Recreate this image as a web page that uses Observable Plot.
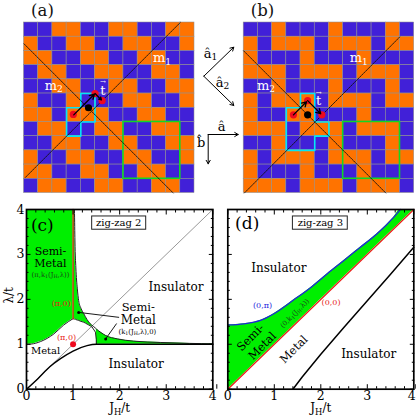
<!DOCTYPE html>
<html><head><meta charset="utf-8">
<script src="https://cdn.jsdelivr.net/npm/d3@7"></script>
<script src="https://cdn.jsdelivr.net/npm/@observablehq/plot@0.6"></script>
<style>
html,body{margin:0;padding:0;background:#fff}
#fig{position:relative;width:416px;height:419px;overflow:hidden;font-family:"DejaVu Serif",serif}
#fig svg{position:absolute;overflow:visible}
</style></head><body><div id="fig"></div>
<script>
const SERIF = "DejaVu Serif";
const BLUE = "#4120d8", ORANGE = "#ff7300", CYAN = "#05e6f5", BOX = "#12d626";
const GREEN = "#00ef00", RED = "#e8231a", RED_DOT = "#ee0a1e", CURVE_BLUE = "#2222dd";

// ---- magnetic patterns (B = blue, O = orange)
const gridA = [
 "BBOOBBOOBBOO","OBBOOBBOOBBO","OOBBOOBBOOBB","BOOBBOOBBOOB",
 "BBOOBBOOBBOO","OBBOBBBOOBBO","OOBOOOBBOOBB","BOOBBOOBBOOB",
 "BBOOBBOOBBOO","OBBOOBBOOBBO","OOBBOOBBOOBB","BOOBBOOBBOOB"];
const gridB = [
 "BBOBBBOBBBOB","OBOOOBOOOBOO","OBBBOBBBOBBB","OOOBOOOBOOOB",
 "BBOBBBOBBBOB","OBOOOBOOOBOO","OBBOOBBBOBBB","OOOBOOOBOOOB",
 "BBOBBBOBBBOB","OBOOOBOOOBOO","OBBBOBBBOBBB","OOOBOOOBOOOB"];

// ---- overlays in lattice units
const cyanA = [[3,6],[4,6],[4,5],[5,5],[5,7],[4,7],[4,8],[3,8],[3,6]];
const cyanB = [[4,5],[5,5],[5,7],[6,7],[6,8],[5,8],[5,9],[3,9],[3,6],[4,6],[4,5]];
const boxCells = [7,7,11,11];
const m1A = [[0.1,10.9],[11,0]], m2A = [[0,1.5],[10.5,12]];
const m1B = [[0.05,12],[11,1]], m2B = [[0,2],[10,12]];
const redA = [[3.47,6.47],[5,5],[5.5,5.5]], blackA = [[4.54,6]];
const redB = [[3.5,6.5],[4.5,5.5],[5.5,6.5]], blackB = [[4.5,6.5]];
const hopA = [[3.5,6.5,4.95,5.05],[5,5,5.45,5.45]];
const hopB = [[3.5,6.5,4.42,5.58],[4.5,5.5,5.42,6.42]];

// ---- panel (c) boundaries
const c_metalTopX = [0,0.1,0.3,0.587,0.8,1];
const c_metalTopY = [1,1.005,1.06,1.23,1.43,1.57];
const c_wedgeX = [1,1.03,1.04,1.06,1.09,1.12,1.17,1.23,1.3,1.37,1.41];
const c_wedgeTop = [4,4,3.3,2.7,2.25,1.97,1.8,1.68,1.55,1.455,1.42];
const c_wedgeLow = [1.57,1.56,1.56,1.55,1.54,1.53,1.51,1.49,1.45,1.41,1.38];
const c_tailX = [1.41,1.48,1.5,1.6,1.7,1.95,2.3,2.88,3.5,4];
const c_tailY = [1.42,1.36,1.34,1.26,1.195,1.12,1.07,1.04,1.02,1.01];
const c_dropX = [1.41,1.48,1.5,1.5];
const c_dropY = [1.38,1.27,1.1,1];
const c_lowX = [0,0.25,0.5,0.73,1,1.3,1.5,4];
const c_lowY = [0,0.24,0.5,0.68,0.85,0.97,1,1];

// ---- panel (d) boundaries
const d_blueX = [0,0.344,0.7,0.99,1.42,1.78,2.14,2.49,2.85,3.21,3.57,3.71,4];
const d_blueY = [1.43,1.455,1.53,1.68,1.99,2.26,2.57,2.86,3.16,3.46,3.83,4,4];
const d_blackX = [1.4,1.6,2,2.5,3,3.5,4];
const d_blackY = [0,0.27,0.78,1.38,1.97,2.56,3.16];

const majorTicks = [0,1,2,3,4];
const minorTicks = [0.2,0.4,0.6,0.8,1.2,1.4,1.6,1.8,2.2,2.4,2.6,2.8,3.2,3.4,3.6,3.8];

// ---- text
const labelsC = [
 {x:0.34,y:3.64,t:"(c)",s:17},
 {x:0.515,y:3.06,t:"Semi-",s:11},{x:0.515,y:2.80,t:"Metal",s:11},
 {x:0.515,y:2.55,t:"(π,k_{1}(J_{H},λ))",s:6.8,c:"#1a4a1a"},
 {x:0.745,y:1.91,t:"(π,0)",s:8,c:RED},{x:0.86,y:1.15,t:"(π,0)",s:8,c:RED},
 {x:0.41,y:0.86,t:"Metal",s:10},
 {x:3.21,y:2.27,t:"Insulator",s:12},
 {x:2.4,y:1.82,t:"Semi-",s:11.5},{x:2.4,y:1.53,t:"Metal",s:12},
 {x:2.38,y:1.28,t:"(k_{1}(J_{H},λ),0)",s:6.8},
 {x:2.355,y:0.557,t:"Insulator",s:12},
 {x:1.98,y:3.70,t:"zig-zag 2",s:10},
 {x:2,y:-0.43,t:"J_{H}/t",s:12},
 {x:-0.38,y:2.09,t:"λ/t",s:12,r:-90}
];
const labelsD = [
 {x:0.417,y:3.69,t:"(d)",s:17},
 {x:1.097,y:2.70,t:"Insulator",s:12},
 {x:0.746,y:1.87,t:"(0,π)",s:8,c:CURVE_BLUE},
 {x:2.22,y:1.93,t:"(0,0)",s:8,c:RED},
 {x:1.44,y:1.69,t:"(0,k_{1}(J_{H},λ))",s:6.8,r:-45,c:"#1a4a1a"},
 {x:0.488,y:1.15,t:"Semi-",s:11.5,r:-45},{x:0.74,y:0.96,t:"Metal",s:11.5,r:-45},
 {x:1.42,y:0.885,t:"Metal",s:11.5,r:-45},
 {x:3.03,y:0.79,t:"Insulator",s:12},
 {x:1.99,y:3.70,t:"zig-zag 3",s:10},
 {x:2,y:-0.43,t:"J_{H}/t",s:12}
];
const labelsA = [{x:9.72,y:2.48,t:"m_{1}",s:13},{x:2.1,y:4.43,t:"m_{2}",s:13},{x:5.55,y:4.78,t:"t",s:13},{x:5.55,y:4.18,t:"→",s:7}];
const labelsB = [{x:8.1,y:2.48,t:"m_{1}",s:13},{x:1.57,y:4.43,t:"m_{2}",s:13},{x:5.28,y:5.53,t:"t",s:13},{x:5.28,y:4.93,t:"→",s:7}];

// ---- lattice-vector key (plot units = px of its own small frame)
const keyArrows = [[13.3,45.7,43.3,16.7],[13.3,45.7,43.3,75],[17.7,104,47.7,104],[17.7,104,17.7,133.3]];
const keyLabels = [
 {x:20,y:23,t:"â_{1}"},{x:32,y:52,t:"â_{2}"},{x:31,y:96,t:"â"},{x:10.7,y:112.7,t:"b\u0302"}
];

const fig = document.getElementById("fig");

function textMarks(list, fill) {
  return list.map(l => Plot.text([l], {x:"x", y:"y", text:"t", fontSize:l.s||13,
    fill: l.c || fill || "black", rotate: l.r || 0, fontFamily: SERIF}));
}
function subscripts(svg) {
  d3.select(svg).selectAll("text").each(function() {
    const raw = this.textContent;
    if (!raw.includes("_{")) return;
    const node = this; node.textContent = "";
    const parts = raw.split(/(_\{[^}]*\})/).filter(Boolean);
    let lift = 0;
    for (const p of parts) {
      const ts = document.createElementNS("http://www.w3.org/2000/svg","tspan");
      const sub = p.startsWith("_{");
      ts.textContent = sub ? p.slice(2,-1) : p;
      if (sub) { ts.setAttribute("font-size","70%"); ts.setAttribute("dy","0.3em"); lift = 1; }
      else if (lift) { ts.setAttribute("dy","-0.21em"); lift = 0; }
      node.appendChild(ts);
    }
  });
}
function place(svg, left, top) {
  svg.style.left = left + "px"; svg.style.top = top + "px";
  subscripts(svg); fig.appendChild(svg);
}

function lattice(rows, cyan, m1, m2, red, black, hops, labels, title, left, ml) {
  const cells = rows.flatMap((r,i) => [...r].map((v,j) => ({i,j,v})));
  const svg = Plot.plot({
    width: 200, height: 200, marginLeft: ml, marginRight: 200-ml-170.5, marginTop: 22, marginBottom: 7.5,
    x:{domain:[0,12],axis:null}, y:{domain:[0,12],reverse:true,axis:null},
    style:{background:"transparent",fontFamily:SERIF},
    marks:[
      Plot.rect(cells,{x1:"j",x2:d=>d.j+1,y1:"i",y2:d=>d.i+1,
        fill:d=>d.v==="B"?BLUE:ORANGE,stroke:"#8f8f8f",strokeWidth:0.55}),
      Plot.rect([boxCells],{x1:d=>d[0],y1:d=>d[1],x2:d=>d[2],y2:d=>d[3],stroke:BOX,strokeWidth:1.6,fill:"none"}),
      Plot.line(cyan,{x:d=>d[0],y:d=>d[1],stroke:CYAN,strokeWidth:1.6}),
      Plot.line(m1,{x:d=>d[0],y:d=>d[1],stroke:"#111",strokeWidth:0.9,strokeDasharray:"1.6 1"}),
      Plot.line(m2,{x:d=>d[0],y:d=>d[1],stroke:"#111",strokeWidth:0.9,strokeDasharray:"1.6 1"}),
      Plot.dot(red,{x:d=>d[0],y:d=>d[1],r:3.6,fill:RED_DOT,stroke:"none"}),
      Plot.dot(black,{x:d=>d[0],y:d=>d[1],r:3.6,fill:"black",stroke:"none"}),
      Plot.arrow(hops,{x1:d=>d[0],y1:d=>d[1],x2:d=>d[2],y2:d=>d[3],stroke:"black",strokeWidth:1.3,headLength:6,bend:false}),
      ...textMarks(labels,"white"),
      Plot.text([title],{x:title.x,y:title.y,text:d=>d.t,fontSize:16.5,fill:"#111",fontFamily:SERIF})
    ]
  });
  place(svg,left,0);
}
lattice(gridA,cyanA,m1A,m2A,redA,blackA,hopA,labelsA,{t:"(a)",x:1.3,y:-0.85},0,23.5);
lattice(gridB,cyanB,m1B,m2B,redB,blackB,hopB,labelsB,{t:"(b)",x:1.32,y:-0.85},216,27.2);

function frameAxes(withYLabels, xLabelShift) {
  const ax = {fontSize:12.5, fontFamily:SERIF, fontVariant:"normal", strokeWidth:1};
  const blank = () => "";
  const inner = majorTicks.filter(d => d < 4), last = majorTicks.filter(d => d === 4);
  return [
    Plot.axisX(inner,{...ax,anchor:"bottom",tickSize:-4.5,tickPadding:6,label:null,tickFormat:d=>String(d)}),
    Plot.axisX(last,{...ax,anchor:"bottom",tickSize:-4.5,tickPadding:6,label:null,tickFormat:d=>String(d),textAnchor:"end",dx:xLabelShift}),
    Plot.axisX(minorTicks,{...ax,anchor:"bottom",tickSize:-2.5,tickFormat:blank,label:null}),
    Plot.axisX(majorTicks,{...ax,anchor:"top",tickSize:-4.5,tickFormat:blank,label:null}),
    Plot.axisX(minorTicks,{...ax,anchor:"top",tickSize:-2.5,tickFormat:blank,label:null}),
    Plot.axisY(majorTicks,{...ax,anchor:"left",tickSize:-4.5,tickPadding:6.5,label:null,tickFormat:withYLabels?(d=>String(d)):blank}),
    Plot.axisY(minorTicks,{...ax,anchor:"left",tickSize:-2.5,tickFormat:blank,label:null}),
    Plot.axisY(majorTicks,{...ax,anchor:"right",tickSize:-4.5,tickFormat:blank,label:null}),
    Plot.axisY(minorTicks,{...ax,anchor:"right",tickSize:-2.5,tickFormat:blank,label:null}),
    Plot.frame({stroke:"black",strokeWidth:1.7})
  ];
}
const xy = (xs,ys) => xs.map((x,i)=>({x,y:ys[i]}));
const smooth = "monotone-x";

// panel (c)
place(Plot.plot({
  width:215,height:214,marginLeft:26,marginRight:2.7,marginTop:4,marginBottom:30.3,
  x:{domain:[0,4],axis:null},y:{domain:[0,4],axis:null},
  style:{background:"transparent",fontFamily:SERIF},
  marks:[
    Plot.areaY(xy(c_metalTopX,c_metalTopY),{x:"x",y1:"y",y2:4,fill:GREEN,curve:smooth}),
    Plot.areaY(c_wedgeX.map((x,i)=>({x,lo:c_wedgeLow[i],hi:c_wedgeTop[i]})),{x:"x",y1:"lo",y2:"hi",fill:GREEN,curve:smooth}),
    Plot.areaY(xy(c_tailX,c_tailY).filter(d=>d.x>=1.5),{x:"x",y1:1,y2:"y",fill:GREEN,curve:smooth}),
    Plot.line([[0,0],[4,4]],{x:d=>d[0],y:d=>d[1],stroke:"#999",strokeWidth:1}),
    Plot.line(xy(c_metalTopX,c_metalTopY),{x:"x",y:"y",stroke:"#222",strokeWidth:1,curve:smooth}),
    Plot.line(xy(c_wedgeX,c_wedgeTop).slice(1),{x:"x",y:"y",stroke:"#222",strokeWidth:1,curve:smooth}),
    Plot.line(xy(c_wedgeX,c_wedgeLow),{x:"x",y:"y",stroke:"#222",strokeWidth:1,curve:smooth}),
    Plot.line(xy(c_tailX,c_tailY),{x:"x",y:"y",stroke:"#222",strokeWidth:1,curve:smooth}),
    Plot.line(xy(c_dropX,c_dropY),{x:"x",y:"y",stroke:"#222",strokeWidth:1}),
    Plot.line(xy(c_lowX,c_lowY),{x:"x",y:"y",stroke:"black",strokeWidth:1.4,curve:smooth}),
    Plot.line([[1,1.57],[1,4]],{x:d=>d[0],y:d=>d[1],stroke:RED,strokeWidth:1.3}),
    Plot.dot([[1,1]],{x:d=>d[0],y:d=>d[1],r:3,fill:RED_DOT,stroke:"none"}),
    Plot.line([[1.12,1.71],[1.98,1.6]],{x:d=>d[0],y:d=>d[1],stroke:"black",strokeWidth:0.9}),
    Plot.line([[1.7,1.12],[1.93,1.455]],{x:d=>d[0],y:d=>d[1],stroke:"black",strokeWidth:0.9}),
    Plot.dot([[1.12,1.71],[1.7,1.12]],{x:d=>d[0],y:d=>d[1],r:1.5,fill:"black",stroke:"none"}),
    Plot.rect([[1.41,3.55,2.57,3.845]],{x1:d=>d[0],y1:d=>d[1],x2:d=>d[2],y2:d=>d[3],fill:"white",stroke:"#222",strokeWidth:1}),
    ...frameAxes(true,4),
    ...textMarks(labelsC)
  ]
}),0,205);

// panel (d)
place(Plot.plot({
  width:201,height:214,marginLeft:12.3,marginRight:2.7,marginTop:4,marginBottom:30.3,
  x:{domain:[0,4],axis:null},y:{domain:[0,4],axis:null},
  style:{background:"transparent",fontFamily:SERIF},
  marks:[
    Plot.areaY(d_blueX.map((x,i)=>({x,lo:x,hi:d_blueY[i]})),{x:"x",y1:"lo",y2:"hi",fill:GREEN,curve:smooth}),
    Plot.line(xy(d_blueX,d_blueY).slice(0,12),{x:"x",y:"y",stroke:CURVE_BLUE,strokeWidth:1.3,curve:smooth}),
    Plot.line([[0,0],[4,4]],{x:d=>d[0],y:d=>d[1],stroke:RED,strokeWidth:1.3}),
    Plot.line(xy(d_blackX,d_blackY),{x:"x",y:"y",stroke:"black",strokeWidth:1.5}),
    Plot.rect([[1.4,3.55,2.58,3.845]],{x1:d=>d[0],y1:d=>d[1],x2:d=>d[2],y2:d=>d[3],fill:"white",stroke:"#222",strokeWidth:1}),
    ...frameAxes(false,2),
    ...textMarks(labelsD)
  ]
}),215,205);

// lattice-vector key
place(Plot.plot({
  width:60,height:140,margin:0,
  x:{domain:[0,60],axis:null},y:{domain:[0,140],reverse:true,axis:null},
  style:{background:"transparent",fontFamily:SERIF},
  marks:[
    Plot.arrow(keyArrows,{x1:d=>d[0],y1:d=>d[1],x2:d=>d[2],y2:d=>d[3],stroke:"black",strokeWidth:1,headLength:6,bend:false}),
    ...textMarks(keyLabels.map(l=>({...l,s:13})))
  ]
}),190,30);
</script></body></html>
